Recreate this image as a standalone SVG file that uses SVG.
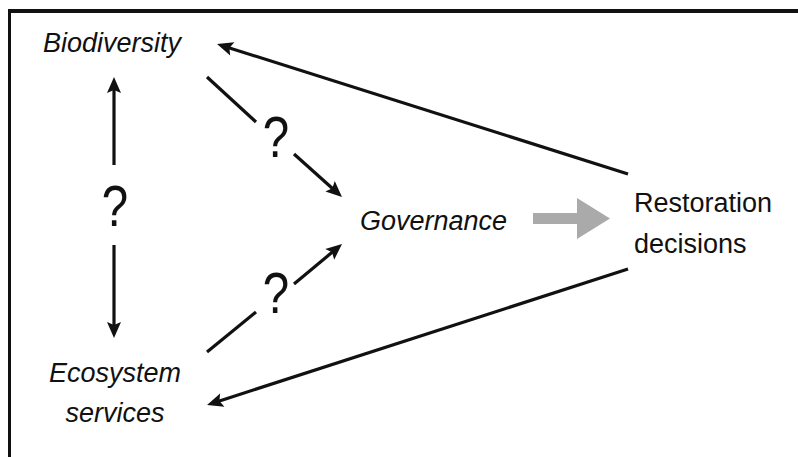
<svg xmlns="http://www.w3.org/2000/svg" width="798" height="457" viewBox="0 0 798 457">
<style>
.t{font-family:"Liberation Sans",Arial,sans-serif;font-size:27px;fill:#111}
.i{font-style:italic}
.q{font-family:"Liberation Sans",Arial,sans-serif;font-size:50px;fill:#111;text-anchor:middle}
.c{stroke:#111;stroke-width:3.2;fill:none}
.ca{stroke:#111;stroke-width:3.2;fill:none;marker-end:url(#ah)}
</style>
<defs>
<marker id="ah" markerUnits="userSpaceOnUse" viewBox="-8 -8 18 16" refX="0" refY="0" markerWidth="18" markerHeight="16" orient="auto" overflow="visible">
<path d="M9,0 L-7,-7 L-4,0 L-7,7 Z" fill="#111"/>
</marker>
</defs>
<rect width="798" height="457" fill="#fff"/>
<g id="frame">
<line x1="8" y1="11" x2="798" y2="11" stroke="#111" stroke-width="4"/>
<line x1="9.5" y1="9" x2="9.5" y2="457" stroke="#111" stroke-width="3"/>
</g>
<g id="connectors">
<line class="ca" x1="628" y1="174" x2="225.6" y2="46.7"/>
<line class="ca" x1="628" y1="269" x2="215.6" y2="402.2"/>
<line class="ca" x1="114" y1="165" x2="114" y2="86"/>
<line class="ca" x1="114" y1="245" x2="114" y2="329"/>
<line class="c" x1="207" y1="77" x2="256" y2="122"/>
<line class="ca" x1="294" y1="154" x2="335.3" y2="191"/>
<line class="c" x1="207" y1="352" x2="256" y2="312"/>
<line class="ca" x1="294" y1="284" x2="335.1" y2="249.8"/>
<polygon points="533,213 577,213 577,198 610,218.5 577,239 577,224 533,224" fill="#aaaaaa"/>
<text class="q" x="115" y="226" transform="translate(115 226) scale(0.95 1.15) translate(-115 -226)">?</text>
<text class="q" x="276" y="157" transform="translate(276 157) scale(0.95 1.15) translate(-276 -157)">?</text>
<text class="q" x="276" y="313" transform="translate(276 313) scale(0.95 1.15) translate(-276 -313)">?</text>
</g>
<g id="biodiversity"><text class="t i" x="43" y="52">Biodiversity</text></g>
<g id="ecosystem-services">
<text class="t i" x="115" y="382" text-anchor="middle">Ecosystem</text>
<text class="t i" x="115" y="422" text-anchor="middle">services</text>
</g>
<g id="governance"><text class="t i" x="360" y="230">Governance</text></g>
<g id="restoration-decisions">
<text class="t" x="634" y="212">Restoration</text>
<text class="t" x="634" y="253">decisions</text>
</g>
</svg>
